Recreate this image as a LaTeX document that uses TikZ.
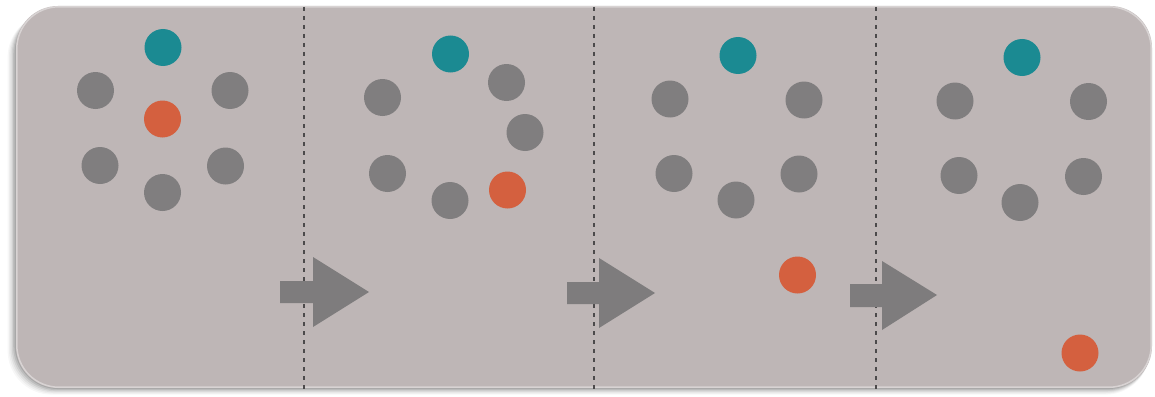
\documentclass[tikz,border=0pt]{standalone}
\usetikzlibrary{calc}
\definecolor{panelbg}{HTML}{BEB6B6}
\definecolor{dotgray}{HTML}{807E7F}
\definecolor{dotteal}{HTML}{1B8A92}
\definecolor{dotorange}{HTML}{D4603F}
\definecolor{arrowgray}{HTML}{7E7C7D}
\definecolor{sepgray}{HTML}{4C4A4B}
\tikzset{
  dot/.style={circle, inner sep=0pt, minimum size=37pt, draw=none},
  graydot/.style={dot, fill=dotgray},
  tealdot/.style={dot, fill=dotteal},
  orangedot/.style={dot, fill=dotorange},
  separator/.style={draw=sepgray, line width=2pt, dash pattern=on 4pt off 5pt},
  bigarrow/.style={fill=arrowgray, draw=none},
}
\begin{document}
\begin{tikzpicture}[x=1pt, y=-1pt]
\useasboundingbox (0,0) rectangle (1155,396);
\fill[white] (0,0) rectangle (1155,396);

% soft shadow under the panel, offset down and to the left
\foreach \k/\o in {12/0.03, 10/0.04, 8/0.05, 6/0.07, 4/0.09, 2/0.11}{
  \fill[black, opacity=\o, rounded corners=44pt]
    ($(16,8)+(-\k*0.7,\k*0.45)$) rectangle ($(1152,388)+(-\k*0.2,\k*0.55)$);
}
% panel
\fill[panelbg, rounded corners=42pt] (16,6) rectangle (1152,388);
% light rim along the panel edge
\draw[white, opacity=0.4, line width=1.5pt, rounded corners=42pt]
  (16.8,6.8) rectangle (1151.2,387.2);

% separators
\foreach \i/\x in {1/304, 2/594, 3/876}{
  \coordinate (s\i top) at (\x,7);
  \coordinate (s\i bot) at (\x,390);
  \path[separator] (s\i top) -- (s\i bot);
}

% arrows
\fill[bigarrow] (280,281) -- (313,281) -- (313,257) -- (369,292)
  -- (313,327) -- (313,303) -- (280,303) -- cycle;
\fill[bigarrow] (567,282) -- (599,282) -- (599,258) -- (655,293)
  -- (599,328) -- (599,304) -- (567,304) -- cycle;
\fill[bigarrow] (850,284) -- (882,284) -- (882,261) -- (937,295)
  -- (882,330) -- (882,307) -- (850,307) -- cycle;

% stage 1
\node[tealdot]   (a0) at (163,47.5) {};
\node[graydot]   (a1) at (95.5,90.5) {};
\node[graydot]   (a2) at (230,90.5) {};
\node[orangedot] (a3) at (162.5,119) {};
\node[graydot]   (a4) at (100,165.5) {};
\node[graydot]   (a5) at (225.5,166) {};
\node[graydot]   (a6) at (162.5,192.5) {};

% stage 2
\node[tealdot]   (b0) at (450.5,54) {};
\node[graydot]   (b1) at (382.5,97.5) {};
\node[graydot]   (b2) at (506.5,82.5) {};
\node[graydot]   (b3) at (525,132.5) {};
\node[graydot]   (b4) at (387.5,173.5) {};
\node[graydot]   (b5) at (450,200.5) {};
\node[orangedot] (b6) at (507.5,190) {};

% stage 3
\node[tealdot]   (c0) at (738,55.5) {};
\node[graydot]   (c1) at (670,99) {};
\node[graydot]   (c2) at (804,100) {};
\node[graydot]   (c3) at (674,173.5) {};
\node[graydot]   (c4) at (799,174) {};
\node[graydot]   (c5) at (736,200) {};
\node[orangedot] (c6) at (797.5,275) {};

% stage 4
\node[tealdot]   (d0) at (1022,57.5) {};
\node[graydot]   (d1) at (955,101) {};
\node[graydot]   (d2) at (1088.5,101.5) {};
\node[graydot]   (d3) at (959,175.5) {};
\node[graydot]   (d4) at (1083.5,176.5) {};
\node[graydot]   (d5) at (1020,202.5) {};
\node[orangedot] (d6) at (1080,353) {};
\end{tikzpicture}
\end{document}
